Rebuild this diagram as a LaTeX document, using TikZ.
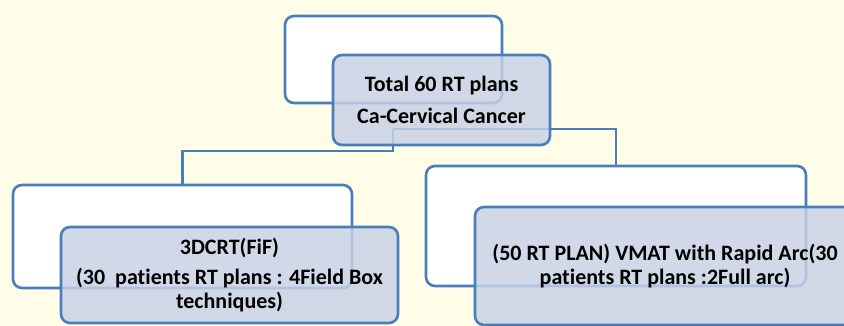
\documentclass[tikz,border=0pt]{standalone}
\usepackage{fontspec}
\setmainfont{Carlito}[Ligatures={NoCommon,NoRare}]
\usepackage{xcolor}
\usetikzlibrary{positioning}

\definecolor{creamBg}{RGB}{255,252,232}
\definecolor{smartBlue}{RGB}{74,126,187}
\definecolor{shadeBlue}{RGB}{200,209,229}

\begin{document}
\begin{tikzpicture}[
  x=1pt, y=-1pt,
  backbox/.style={draw=smartBlue, line width=2.6pt, rounded corners=9pt, fill=white, inner sep=0pt},
  frontbox/.style={draw=smartBlue, line width=2.6pt, rounded corners=9pt, fill=shadeBlue, fill opacity=0.82, text opacity=1, align=center, inner sep=0pt, font=\fontsize{22}{24}\selectfont\bfseries},
  link/.style={draw=smartBlue, line width=2.6pt}
]
\useasboundingbox[fill=creamBg] (0,0) rectangle (844,326);

% back boxes
\node[backbox, minimum width=217pt, minimum height=87pt] (topBack) at (393.5,59.5) {};
\node[backbox, minimum width=339pt, minimum height=103pt] (leftBack) at (182.5,236.5) {};
\node[backbox, minimum width=380pt, minimum height=120pt] (rightBack) at (616,226) {};

% connectors
\coordinate (hub) at (393,129);
\draw[link] (hub) -- ++(0,22) -| (leftBack.north);
\draw[link] (hub) -| (rightBack.north);

% front boxes
\node[frontbox, minimum width=217pt, minimum height=90pt] (total) at (441.5,100)
  {Total 60 RT plans\\[8pt]Ca-Cervical Cancer};
\node[frontbox, minimum width=337pt, minimum height=96pt] (crt) at (229.5,275)
  {3DCRT(FiF)\\[6pt](30\ \ patients RT plans : 4Field Box\\techniques)};
\node[frontbox, minimum width=380pt, minimum height=118pt] (vmat) at (665,266)
  {(50 RT PLAN) VMAT with Rapid Arc(30\\patients RT plans :2Full arc)};
\end{tikzpicture}
\end{document}
